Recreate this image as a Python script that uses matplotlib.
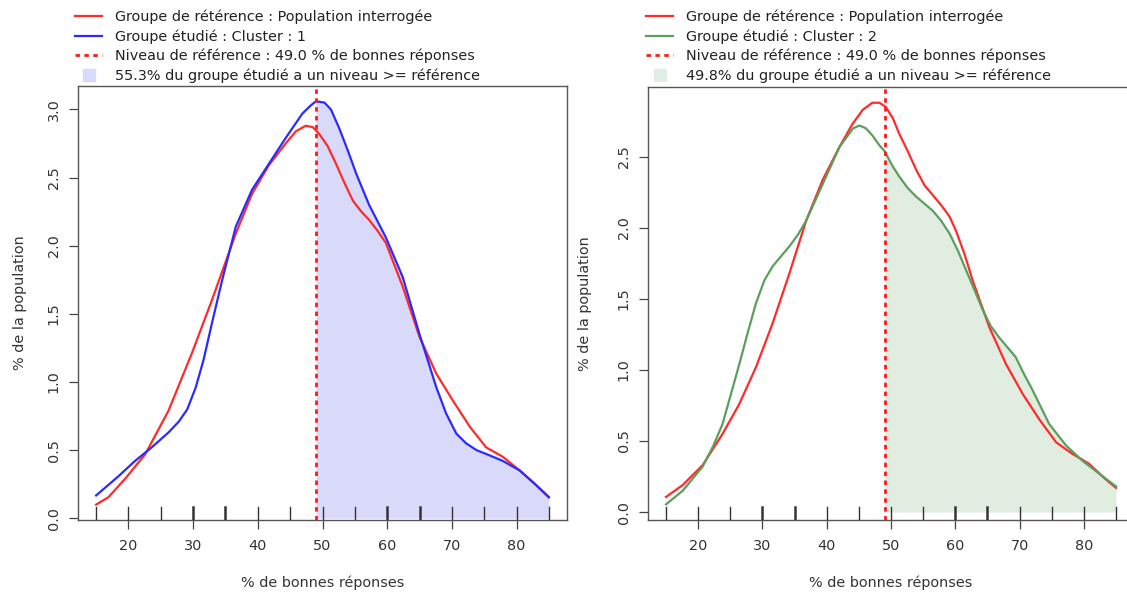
import matplotlib.pyplot as plt
from matplotlib.lines import Line2D
import numpy as np

plt.rcParams['font.family'] = ['DejaVu Sans']

# density curves, left panel (reference population vs cluster 1)
ref1_x = [15, 16.9, 19.5, 22.6, 26.2, 29.8, 32.9, 36.6, 39.1, 41.7, 44.3, 45.9, 47.4, 48.5,
          49.5, 50.8, 52.1, 53.4, 54.7, 56.0, 57.2, 58.5, 59.8, 62.4, 65.0, 67.6, 70.2, 72.8,
          75.3, 77.9, 80.5, 83.1, 85]
ref1_y = [0.10, 0.154, 0.29, 0.47, 0.79, 1.21, 1.60, 2.09, 2.38, 2.59, 2.75, 2.84, 2.88, 2.87,
          2.82, 2.73, 2.60, 2.46, 2.33, 2.25, 2.19, 2.11, 2.02, 1.70, 1.33, 1.06, 0.86, 0.67,
          0.52, 0.45, 0.35, 0.24, 0.154]
cl1_x = [15, 18.5, 21.0, 23.6, 26.2, 27.8, 29.1, 30.4, 31.6, 32.9, 34.5, 36.6, 39.1, 41.7,
         44.3, 46.9, 48.2, 49.0, 50.3, 51.3, 52.6, 53.9, 55.2, 57.2, 59.8, 62.4, 65.0, 67.6,
         69.1, 70.7, 72.2, 73.8, 75.9, 77.9, 80.5, 83.1, 85]
cl1_y = [0.167, 0.31, 0.42, 0.52, 0.63, 0.71, 0.80, 0.96, 1.16, 1.43, 1.75, 2.14, 2.41, 2.60,
         2.79, 2.97, 3.03, 3.06, 3.05, 3.00, 2.86, 2.70, 2.53, 2.30, 2.06, 1.77, 1.35, 0.96,
         0.77, 0.62, 0.55, 0.50, 0.46, 0.42, 0.35, 0.24, 0.154]

# density curves, right panel (reference population vs cluster 2)
ref2_x = [15, 17.6, 20.7, 23.8, 26.4, 29.0, 31.6, 34.2, 36.8, 39.4, 42.0, 44.0, 45.6, 47.1,
          48.2, 49.2, 50.3, 51.3, 52.6, 53.9, 55.2, 56.5, 57.8, 59.1, 60.1, 61.4, 62.7, 65.3,
          67.9, 70.5, 73.1, 75.7, 78.2, 80.8, 83.4, 85]
ref2_y = [0.106, 0.19, 0.33, 0.55, 0.76, 1.02, 1.33, 1.68, 2.05, 2.34, 2.57, 2.73, 2.83, 2.88,
          2.88, 2.85, 2.77, 2.66, 2.54, 2.41, 2.30, 2.23, 2.16, 2.08, 1.98, 1.82, 1.63, 1.30,
          1.04, 0.83, 0.65, 0.49, 0.41, 0.34, 0.23, 0.17]
cl2_x = [15, 17.6, 20.7, 22.3, 23.8, 25.1, 26.4, 27.7, 29.0, 30.3, 31.6, 32.9, 34.2, 35.5,
         36.8, 39.4, 42.0, 44.1, 45.1, 46.1, 47.1, 48.2, 49.0, 50.3, 51.3, 52.6, 53.9, 55.2,
         56.5, 57.8, 59.1, 60.4, 61.7, 64.3, 65.5, 66.8, 68.1, 69.4, 70.7, 72.0, 74.6, 77.2,
         79.8, 82.4, 85]
cl2_y = [0.054, 0.15, 0.32, 0.46, 0.62, 0.83, 1.04, 1.26, 1.47, 1.63, 1.73, 1.80, 1.87, 1.95,
         2.05, 2.31, 2.57, 2.70, 2.72, 2.70, 2.65, 2.58, 2.54, 2.43, 2.36, 2.28, 2.22, 2.17,
         2.12, 2.05, 1.96, 1.84, 1.70, 1.42, 1.31, 1.23, 1.16, 1.09, 0.97, 0.86, 0.62, 0.47,
         0.36, 0.27, 0.18]

rug_x = [15, 20, 25, 30, 35, 40, 45, 50, 55, 60, 65, 70, 75, 80, 85]
rug_heavy = [30, 35, 60, 65]
seuil = 49.0

FS = 10.4

panels = [
    dict(ref=(ref1_x, ref1_y), cl=(cl1_x, cl1_y), col='#2b2bff', fill='#d9d9fa',
         label='Groupe étudié : Cluster : 1',
         part='55.3% du groupe étudié a un niveau >= référence',
         pos=[78 / 1127, 0.1231, 489 / 1127, 0.7319], ylim=(-0.013, 3.172),
         yticks=[0.0, 0.5, 1.0, 1.5, 2.0, 2.5, 3.0], ylab_x=-0.104, leg_x=75),
    dict(ref=(ref2_x, ref2_y), cl=(cl2_x, cl2_y), col='#5c9e5c', fill='#e1ede1',
         label='Groupe étudié : Cluster : 2',
         part='49.8% du groupe étudié a un niveau >= référence',
         pos=[648 / 1127, 0.1231, 486 / 1127, 0.7307], ylim=(-0.056, 2.993),
         yticks=[0.0, 0.5, 1.0, 1.5, 2.0, 2.5], ylab_x=-0.115, leg_x=646),
]

fig = plt.figure(figsize=(11.27, 5.93), dpi=100)

for p in panels:
    ax = fig.add_axes(p['pos'])
    rx, ry = np.array(p['ref'][0]), np.array(p['ref'][1])
    cx, cy = np.array(p['cl'][0]), np.array(p['cl'][1])

    m = cx >= seuil
    ax.fill_between(cx[m], 0, cy[m], color=p['fill'], lw=0, zorder=1)
    ax.plot(rx, ry, color='#ff2a2a', lw=1.6, zorder=3)
    ax.plot(cx, cy, color=p['col'], lw=1.6, zorder=3)
    ax.axvline(seuil, color='#ff1a1a', lw=2, ls=(0, (1.6, 1.6)), zorder=4)

    # rug of observed scores along the bottom edge
    for r in rug_x:
        ax.plot([r, r], [0, 0.03], transform=ax.get_xaxis_transform(),
                color='#333333', lw=1.8 if r in rug_heavy else 1.0, zorder=2)

    ax.set_xlim(12.2, 87.8)
    ax.set_ylim(*p['ylim'])
    ax.set_xticks([20, 30, 40, 50, 60, 70, 80])
    ax.set_yticks(p['yticks'])
    ax.set_yticklabels(['%.1f' % v for v in p['yticks']], rotation=90, va='center')
    ax.tick_params(axis='both', direction='out', length=6.5, width=0.9,
                   color='#444444', labelcolor='#333333', labelsize=FS)
    ax.tick_params(axis='x', pad=7)
    ax.tick_params(axis='y', pad=6)
    for s in ax.spines.values():
        s.set_color('#555555')
        s.set_linewidth(1.0)

    ax.set_xlabel('% de bonnes réponses', fontsize=FS, color='#333333')
    ax.xaxis.set_label_coords(0.5, -0.128)
    ax.set_ylabel('% de la population', fontsize=FS, color='#333333')
    ax.yaxis.set_label_coords(p['ylab_x'], 0.5)

    handles = [
        Line2D([], [], color='#ff2a2a', lw=1.6),
        Line2D([], [], color=p['col'], lw=1.6),
        Line2D([], [], color='#ff1a1a', lw=2, ls=(0, (1.6, 1.6))),
        Line2D([], [], color=p['fill'], marker='s', markersize=9, ls='none'),
    ]
    labels = ['Groupe de rétérence : Population interrogée', p['label'],
              'Niveau de référence : %.1f %% de bonnes réponses' % seuil, p['part']]
    ax.legend(handles, labels, loc='upper left', frameon=False, fontsize=FS,
              bbox_to_anchor=(p['leg_x'] / 1127, 1 - 10 / 593),
              bbox_transform=fig.transFigure,
              borderpad=0, borderaxespad=0, handlelength=1.9, handletextpad=0.9,
              labelspacing=0.34, labelcolor='#222222')

fig.savefig('out.png', dpi=100)
